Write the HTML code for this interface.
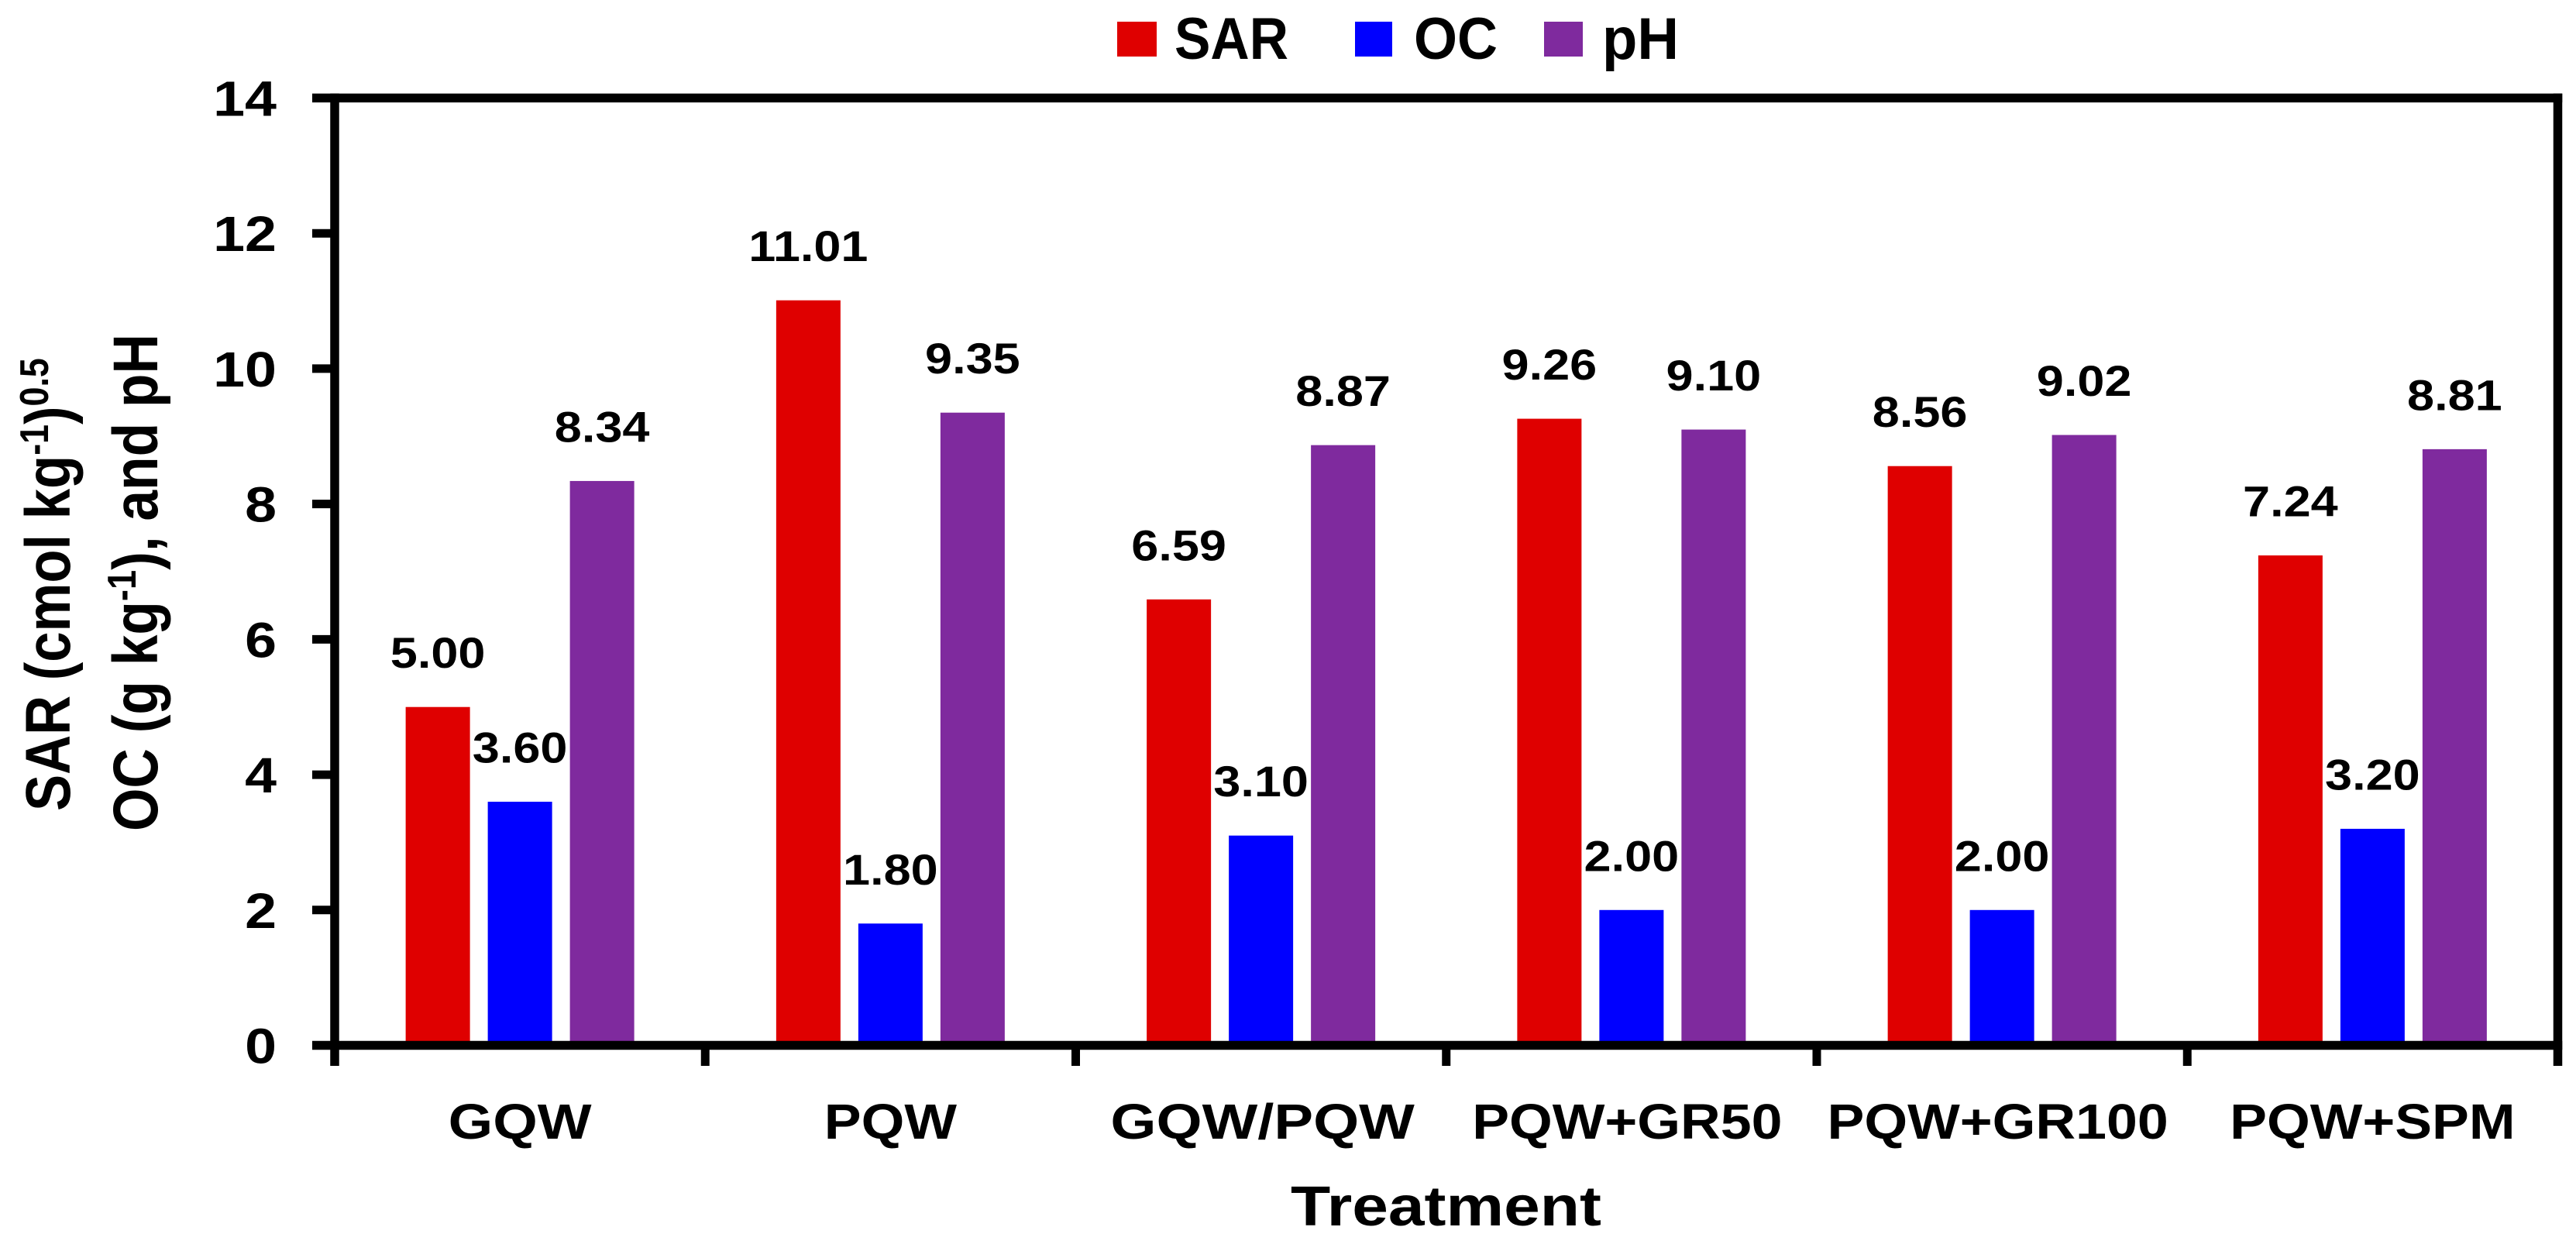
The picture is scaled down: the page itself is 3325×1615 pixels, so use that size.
<!DOCTYPE html>
<html lang="en">
<head>
<meta charset="utf-8">
<title>SAR, OC and pH by treatment</title>
<style>
html,body{margin:0;padding:0;background:#fff;width:3325px;height:1615px;overflow:hidden}
svg{display:block}
text{font-family:"Liberation Sans",sans-serif;font-weight:700;fill:#000}
</style>
</head>
<body>
<svg id="chart" xmlns="http://www.w3.org/2000/svg" width="3325" height="1615" viewBox="0 0 3325 1615">
  <rect width="3325" height="1615" fill="#fff"/>
  <g id="bars"></g>
  <g id="value-labels"></g>
  <g id="axes"></g>
  <g id="y-title">
    <text id="yt1" font-size="82">SAR (cmol kg<tspan font-size="52" dy="-28">-1</tspan><tspan dy="28">)</tspan><tspan font-size="52" dy="-28">0.5</tspan></text>
    <text id="yt2" font-size="82">OC (g kg<tspan font-size="52" dy="-28">-1</tspan><tspan dy="28">), and pH</tspan></text>
  </g>
  <text id="xt" font-size="72">Treatment</text>
  <g id="legend">
    <g>
      <rect x="1442" y="28" width="51" height="45" fill="#df0000"/>
      <text id="l1" font-size="76">SAR</text>
    </g>
    <g>
      <rect x="1749" y="28" width="48" height="45" fill="#0000ff"/>
      <text id="l2" font-size="76">OC</text>
    </g>
    <g>
      <rect x="1993" y="28" width="50" height="45" fill="#7f2a9e"/>
      <text id="l3" font-size="76">pH</text>
    </g>
  </g>
</svg>
<script>
const categories = ["GQW", "PQW", "GQW/PQW", "PQW+GR50", "PQW+GR100", "PQW+SPM"];
const sarValues = [5.00, 11.01, 6.59, 9.26, 8.56, 7.24];
const ocValues = [3.60, 1.80, 3.10, 2.00, 2.00, 3.20];
const phValues = [8.34, 9.35, 8.87, 9.10, 9.02, 8.81];
const yTicks = [0, 2, 4, 6, 8, 10, 12, 14];

const NS = "http://www.w3.org/2000/svg";
const plot = { left: 432, right: 3301.5, top: 126.5, bottom: 1349.5 };
const yMax = 14;
const barWidth = 83;
const barStep = 106;
const seriesDefs = [
  { key: "sar", values: sarValues, color: "#df0000", slot: -1 },
  { key: "oc", values: ocValues, color: "#0000ff", slot: 0 },
  { key: "ph", values: phValues, color: "#7f2a9e", slot: 1 }
];

function yScale(v) { return plot.bottom - (v / yMax) * (plot.bottom - plot.top); }
function bandWidth() { return (plot.right - plot.left) / categories.length; }
function bandEdge(i) { return plot.left + i * bandWidth(); }
function bandCenter(i) { return bandEdge(i) + bandWidth() / 2; }

function make(tag, parent, attrs) {
  const el = document.createElementNS(NS, tag);
  for (const k in attrs) el.setAttribute(k, attrs[k]);
  parent.appendChild(el);
  return el;
}
function stretch(el, k) {
  el.setAttribute("textLength", (el.getComputedTextLength() * k).toFixed(1));
  el.setAttribute("lengthAdjust", "spacingAndGlyphs");
}
/* Scale a text element so its drawn length equals target, anchored at (x, y) with optional rotation. */
function fit(el, x, y, target, rot) {
  const sx = target / el.getComputedTextLength();
  el.setAttribute("transform", `translate(${x} ${y}) rotate(${rot || 0}) scale(${sx} 1)`);
}
/* Horizontal stretch of a category label, depending on its glyph mix. */
function categoryStretch(c) {
  if (c.indexOf("/") >= 0) return 1.187;
  return c.charAt(0) === "G" ? 1.156 : 1.12;
}
/* Small horizontal shift of a category label: long labels sit left of the band centre. */
function categoryNudge(c) {
  return c.indexOf("GR") >= 0 ? -5.5 : (c.indexOf("/") >= 0 ? 2 : 0);
}

const barsG = document.getElementById("bars");
const labelsG = document.getElementById("value-labels");
const axesG = document.getElementById("axes");

seriesDefs.forEach(function (s) {
  s.values.forEach(function (v, i) {
    const cx = bandCenter(i) + s.slot * barStep;
    const bar = make("rect", barsG, {
      x: cx - barWidth / 2, y: yScale(v), width: barWidth, height: plot.bottom - yScale(v), fill: s.color
    });
    
    
    const lab = make("text", labelsG, {
      x: cx, y: yScale(v) - 50.5, "font-size": 56, "text-anchor": "middle"
    });
    lab.textContent = v.toFixed(2);
    
    
    stretch(lab, 1.125);
  });
});

const lineW = 11.5;
const tickLeft = 403;
const tickBottom = 1376;
const frame = [
  ["y-axis-line", plot.left, plot.top - lineW / 2, plot.left, tickBottom],
  ["right-axis-line", plot.right, plot.top - lineW / 2, plot.right, tickBottom],
  ["top-axis-line", tickLeft, plot.top, plot.right + lineW / 2, plot.top],
  ["x-axis-line", tickLeft, plot.bottom, plot.right + lineW / 2, plot.bottom]
];
frame.forEach(function (f) {
  const line = make("line", axesG, { x1: f[1], y1: f[2], x2: f[3], y2: f[4], stroke: "#000", "stroke-width": lineW });
  
  
});

yTicks.forEach(function (t) {
  const y = yScale(t);
  const tick = make("line", axesG, { x1: tickLeft, y1: y, x2: plot.left, y2: y, stroke: "#000", "stroke-width": 11 });
  
  
  const lab = make("text", axesG, { x: 357, y: y + 23, "font-size": 64, "text-anchor": "end" });
  lab.textContent = String(t);
  
  
  stretch(lab, 1.15);
});

categories.forEach(function (c, i) {
  const slug = c.toLowerCase().replace(/[^a-z0-9]+/g, '-');
  if (i > 0) {
    const tick = make("line", axesG, {
      x1: bandEdge(i), y1: plot.bottom, x2: bandEdge(i), y2: tickBottom, stroke: "#000", "stroke-width": 11
    });
    
    
  }
  const lab = make("text", axesG, { x: bandCenter(i) + categoryNudge(c), y: 1470, "font-size": 64, "text-anchor": "middle" });
  lab.textContent = c;
  
  
  stretch(lab, categoryStretch(c));
});

fit(document.getElementById("yt1"), 90, 1047, 585, -90);
fit(document.getElementById("yt2"), 203, 1073, 642, -90);
fit(document.getElementById("xt"), 1666, 1582, 401, 0);
fit(document.getElementById("l1"), 1516, 76, 147, 0);
fit(document.getElementById("l2"), 1825, 76, 108, 0);
fit(document.getElementById("l3"), 2068, 76, 99, 0);
</script>
</body>
</html>
